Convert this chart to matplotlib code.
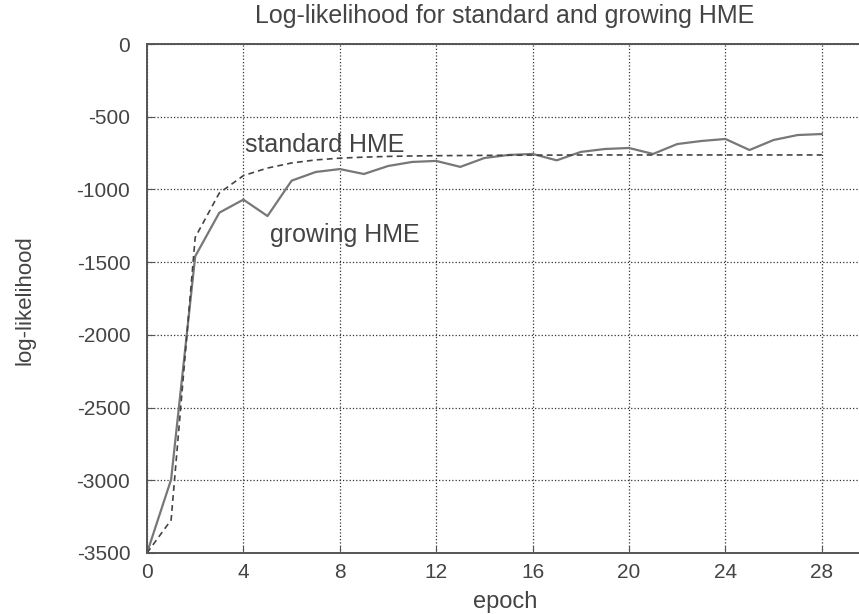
import matplotlib.pyplot as plt
import numpy as np

plt.rcParams['font.family'] = ['Liberation Sans', 'DejaVu Sans']

# epochs
epoch = list(range(29))

# growing HME (solid)
growing = [-3500, -2995, -1460, -1160, -1070, -1183, -940, -880, -860, -894,
           -839, -811, -804, -845, -784, -763, -756, -800, -742, -722,
           -715, -756, -688, -667, -653, -729, -660, -626, -619]

# standard HME (dashed)
standard = [-3500, -3273, -1330, -1025, -905, -853, -818, -797, -785, -778,
            -773, -770, -768, -767, -766, -765, -764, -764, -763, -763,
            -763, -763, -763, -763, -763, -763, -763, -763, -763]

xticks = [0, 4, 8, 12, 16, 20, 24, 28]
yticks = [0, -500, -1000, -1500, -2000, -2500, -3000, -3500]

txt = '#444444'
fig = plt.figure(figsize=(8.59, 6.14), dpi=100)
# right edge of the axes runs past the figure edge, as in the original scan
ax = fig.add_axes([147/859, 1 - 553/614, 723/859, 509/614])

ax.plot(epoch, growing, color='#777777', lw=1.6, solid_joinstyle='round')
ax.plot(epoch, standard, color='#444444', lw=1.2, ls=(0, (3.5, 2.5)))

ax.set_xlim(0, 30)
ax.set_ylim(-3500, 0)
ax.set_xticks(xticks)
ax.set_yticks(yticks)
ax.set_yticklabels([str(v) for v in yticks])
ax.tick_params(direction='in', length=5, color='#555555', labelsize=15,
               labelcolor=txt)
ax.tick_params(axis='x', pad=7)
ax.tick_params(axis='y', pad=12)
ax.grid(True, ls=':', color='#333333', lw=0.9)
for s in ax.spines.values():
    s.set_color('#555555')
    s.set_linewidth(1.4)

ax.text(4.05, -695, 'standard HME', fontsize=18, color=txt, va='center')
ax.text(5.1, -1313, 'growing HME', fontsize=18, color=txt, va='center')

fig.text(505/859, 1 - 16/614, 'Log-likelihood for standard and growing HME',
         ha='center', va='center', fontsize=18, color=txt)
fig.text(505/859, 1 - 602/614, 'epoch', ha='center', va='center',
         fontsize=17, color=txt)
fig.text(25/859, 1 - 300/614, 'log-likelihood', ha='center', va='center',
         rotation=90, fontsize=16, color=txt)

fig.savefig('out.png', dpi=100)
